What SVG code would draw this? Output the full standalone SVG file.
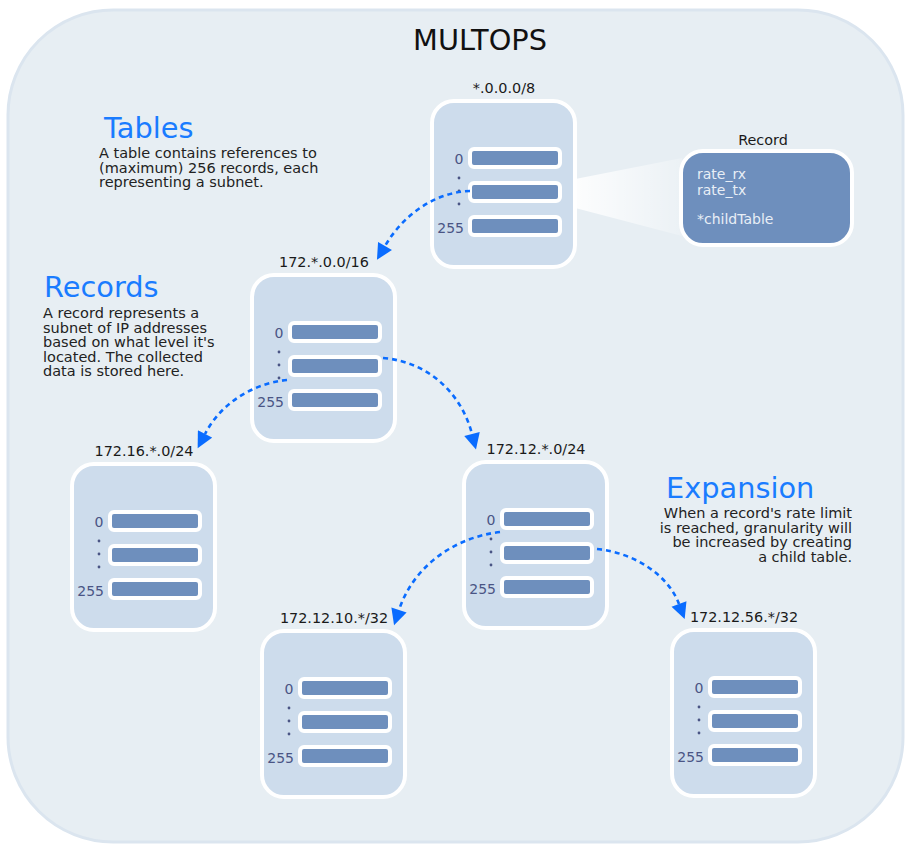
<svg xmlns="http://www.w3.org/2000/svg" width="907" height="846" viewBox="0 0 907 846">
<style>
text{font-family:"DejaVu Sans","Noto Sans",sans-serif}
.box{fill:#cddcec;stroke:#ffffff;stroke-width:4}
.bar{fill:#6e8fbd;stroke:#ffffff;stroke-width:4}
.num{font-size:14px;fill:#4a5585}
.num0{font-size:14px;fill:#4a5585;text-anchor:middle}
.dot{fill:#4a5585}
.lbl{font-size:14.4px;fill:#1a1a1a;text-anchor:middle}
.head{font-size:28.8px;fill:#1a7cff}
.desc{font-size:14.5px;fill:#222222}
.conn{fill:none;stroke:#0a6cff;stroke-width:2.6;stroke-dasharray:5 4;marker-end:url(#arr)}
.rec{font-size:14px;fill:#e8eef6}
</style>
<defs>
<marker id="arr" viewBox="0 0 10 10" refX="0" refY="5" markerWidth="17" markerHeight="16" markerUnits="userSpaceOnUse" orient="auto">
<path d="M0,0 L10,5 L0,10 z" fill="#0a6cff"/>
</marker>
<linearGradient id="beam" x1="560" y1="0" x2="680" y2="0" gradientUnits="userSpaceOnUse">
<stop offset="0" stop-color="#ffffff" stop-opacity="1"/>
<stop offset="1" stop-color="#ffffff" stop-opacity="0.2"/>
</linearGradient>
</defs>
<rect id="background" x="8" y="10" width="895" height="832" rx="105" fill="#e7eef3" stroke="#dbe5ef" stroke-width="3"/>
<text x="480" y="50" font-size="28.8" text-anchor="middle" fill="#111111">MULTOPS</text>

<g id="tables-info">
<text class="head" x="104" y="138">Tables</text>
<text class="desc" x="99" y="158">A table contains references to</text>
<text class="desc" x="99" y="172.5">(maximum) 256 records, each</text>
<text class="desc" x="99" y="187">representing a subnet.</text>
</g>
<g id="records-info">
<text class="head" x="44" y="297">Records</text>
<text class="desc" x="43" y="318">A record represents a</text>
<text class="desc" x="43" y="332.5">subnet of IP addresses</text>
<text class="desc" x="43" y="347">based on what level it's</text>
<text class="desc" x="43" y="361.5">located. The collected</text>
<text class="desc" x="43" y="376">data is stored here.</text>
</g>
<g id="expansion-info">
<text class="head" x="666" y="498">Expansion</text>
<text class="desc" x="852" y="518" text-anchor="end">When a record's rate limit</text>
<text class="desc" x="852" y="532.5" text-anchor="end">is reached, granularity will</text>
<text class="desc" x="852" y="547" text-anchor="end">be increased by creating</text>
<text class="desc" x="852" y="561.5" text-anchor="end">a child table.</text>
</g>

<polygon id="beam-shape" points="560,182 682,158 682,236 560,204" fill="url(#beam)"/>

<g id="record">
<text class="lbl" x="763" y="145">Record</text>
<rect x="681" y="151" width="171" height="94" rx="22" fill="#6e8fbd" stroke="#ffffff" stroke-width="4"/>
<text class="rec" x="697" y="178.5">rate_rx</text>
<text class="rec" x="697" y="195">rate_tx</text>
<text class="rec" x="697" y="224">*childTable</text>
</g>

<g id="node-0-0-0-0-8" transform="translate(430,99)">
<text class="lbl" x="74" y="-6">*.0.0.0/8</text>
<rect class="box" x="2" y="2" width="143" height="166" rx="22"/>
<rect class="bar" x="40" y="50" width="90" height="18" rx="4"/>
<rect class="bar" x="40" y="84" width="90" height="18" rx="4"/>
<rect class="bar" x="40" y="118" width="90" height="18" rx="4"/>
<text class="num0" x="29" y="65">0</text>
<circle class="dot" cx="29" cy="79" r="1.4"/><circle class="dot" cx="29" cy="92" r="1.4"/><circle class="dot" cx="29" cy="105" r="1.4"/>
<text class="num" x="34" y="134" text-anchor="end">255</text>
</g>

<g id="node-172-0-0-16" transform="translate(250,273)">
<text class="lbl" x="74" y="-6">172.*.0.0/16</text>
<rect class="box" x="2" y="2" width="143" height="166" rx="22"/>
<rect class="bar" x="40" y="50" width="90" height="18" rx="4"/>
<rect class="bar" x="40" y="84" width="90" height="18" rx="4"/>
<rect class="bar" x="40" y="118" width="90" height="18" rx="4"/>
<text class="num0" x="29" y="65">0</text>
<circle class="dot" cx="29" cy="79" r="1.4"/><circle class="dot" cx="29" cy="92" r="1.4"/><circle class="dot" cx="29" cy="105" r="1.4"/>
<text class="num" x="34" y="134" text-anchor="end">255</text>
</g>

<g id="node-172-16-0-24" transform="translate(70,462)">
<text class="lbl" x="74" y="-6">172.16.*.0/24</text>
<rect class="box" x="2" y="2" width="143" height="166" rx="22"/>
<rect class="bar" x="40" y="50" width="90" height="18" rx="4"/>
<rect class="bar" x="40" y="84" width="90" height="18" rx="4"/>
<rect class="bar" x="40" y="118" width="90" height="18" rx="4"/>
<text class="num0" x="29" y="65">0</text>
<circle class="dot" cx="29" cy="79" r="1.4"/><circle class="dot" cx="29" cy="92" r="1.4"/><circle class="dot" cx="29" cy="105" r="1.4"/>
<text class="num" x="34" y="134" text-anchor="end">255</text>
</g>

<g id="node-172-12-0-24" transform="translate(462,460)">
<text class="lbl" x="74" y="-6">172.12.*.0/24</text>
<rect class="box" x="2" y="2" width="143" height="166" rx="22"/>
<rect class="bar" x="40" y="50" width="90" height="18" rx="4"/>
<rect class="bar" x="40" y="84" width="90" height="18" rx="4"/>
<rect class="bar" x="40" y="118" width="90" height="18" rx="4"/>
<text class="num0" x="29" y="65">0</text>
<circle class="dot" cx="29" cy="79" r="1.4"/><circle class="dot" cx="29" cy="92" r="1.4"/><circle class="dot" cx="29" cy="105" r="1.4"/>
<text class="num" x="34" y="134" text-anchor="end">255</text>
</g>

<g id="node-172-12-10-32" transform="translate(260,629)">
<text class="lbl" x="74" y="-6">172.12.10.*/32</text>
<rect class="box" x="2" y="2" width="143" height="166" rx="22"/>
<rect class="bar" x="40" y="50" width="90" height="18" rx="4"/>
<rect class="bar" x="40" y="84" width="90" height="18" rx="4"/>
<rect class="bar" x="40" y="118" width="90" height="18" rx="4"/>
<text class="num0" x="29" y="65">0</text>
<circle class="dot" cx="29" cy="79" r="1.4"/><circle class="dot" cx="29" cy="92" r="1.4"/><circle class="dot" cx="29" cy="105" r="1.4"/>
<text class="num" x="34" y="134" text-anchor="end">255</text>
</g>

<g id="node-172-12-56-32" transform="translate(670,628)">
<text class="lbl" x="74" y="-6">172.12.56.*/32</text>
<rect class="box" x="2" y="2" width="143" height="166" rx="22"/>
<rect class="bar" x="40" y="50" width="90" height="18" rx="4"/>
<rect class="bar" x="40" y="84" width="90" height="18" rx="4"/>
<rect class="bar" x="40" y="118" width="90" height="18" rx="4"/>
<text class="num0" x="29" y="65">0</text>
<circle class="dot" cx="29" cy="79" r="1.4"/><circle class="dot" cx="29" cy="92" r="1.4"/><circle class="dot" cx="29" cy="105" r="1.4"/>
<text class="num" x="34" y="134" text-anchor="end">255</text>
</g>

<g id="connectors">
<path class="conn" d="M470,191 C435,192 403,215 385,246"/>
<path class="conn" d="M287,380 C250,384 220,405 205,434"/>
<path class="conn" d="M383,358 C430,362 462,395 472,434"/>
<path class="conn" d="M500,532 C450,538 412,570 399,610"/>
<path class="conn" d="M597,549 C635,553 668,575 679,604"/>
</g>
</svg>
